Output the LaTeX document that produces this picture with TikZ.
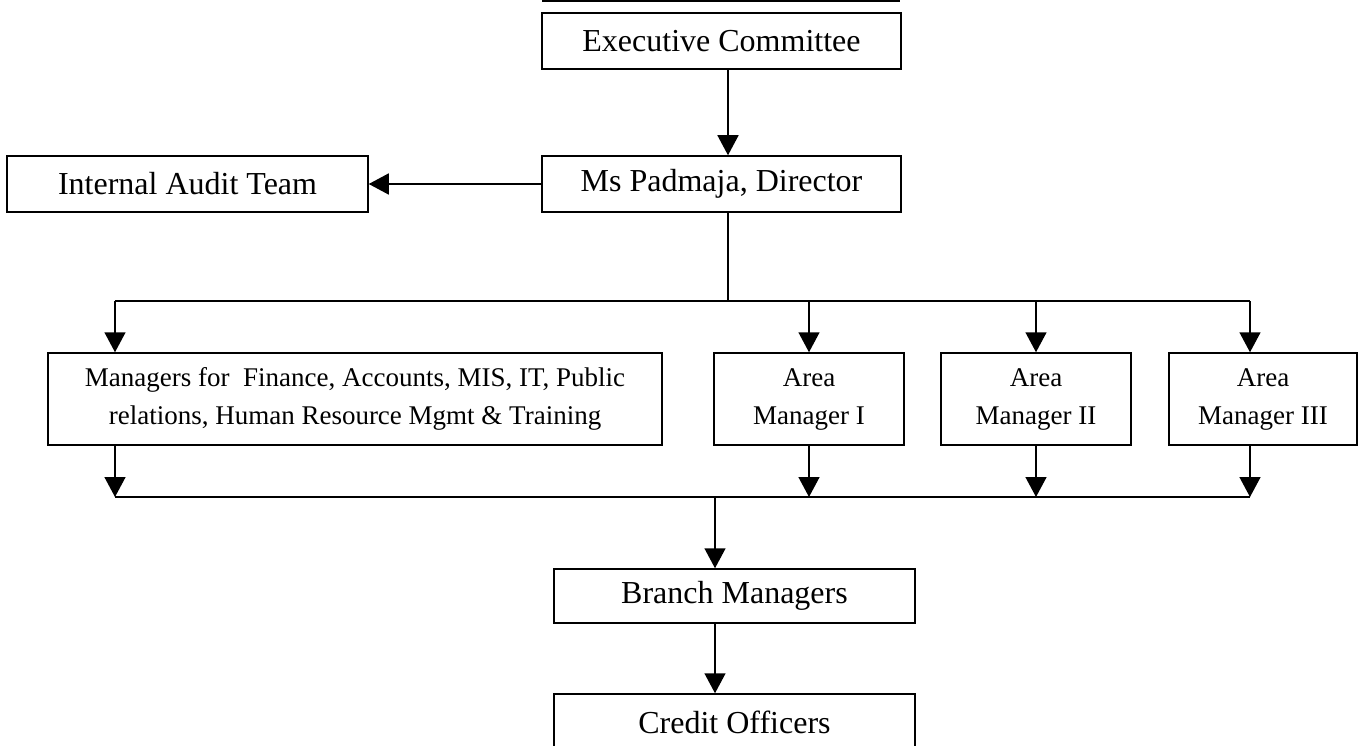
\documentclass[tikz,border=0pt]{standalone}
\usepackage{fontspec}
\setmainfont{Liberation Serif}
\usetikzlibrary{arrows.meta}
\tikzset{
  box/.style={draw, line width=1.5pt, inner sep=0pt, anchor=center, align=center},
  bigtxt/.style={font=\fontsize{32}{36}\selectfont},
  smalltxt/.style={font=\fontsize{27}{38}\selectfont},
  conn/.style={line width=1.5pt},
  arr/.style={line width=1.5pt, -{Triangle[length=20pt,width=21pt]}},
}
\begin{document}
\begin{tikzpicture}[x=1pt,y=-1pt]
\useasboundingbox (0,0) rectangle (1362,746);
% bottom edge of a box cut off at the top
\draw[conn] (542,1) -- (900,1);
% nodes
\node[box,bigtxt,minimum width=359pt,minimum height=56pt] (exec) at (721.5,41) {Executive Committee};
\node[box,bigtxt,minimum width=359pt,minimum height=56pt] (dir) at (721.5,184) {Ms Padmaja, Director};
\node[box,bigtxt,minimum width=361pt,minimum height=56pt] (aud) at (187.5,184) {Internal Audit Team};
\node[box,smalltxt,minimum width=614pt,minimum height=92pt] (mgr) at (355,399) {Managers for\ \ Finance, Accounts, MIS, IT, Public\\relations, Human Resource Mgmt \& Training};
\node[box,smalltxt,minimum width=190pt,minimum height=92pt] (am1) at (809,399) {Area\\Manager I};
\node[box,smalltxt,minimum width=190pt,minimum height=92pt] (am2) at (1036,399) {Area\\Manager II};
\node[box,smalltxt,minimum width=188pt,minimum height=92pt] (am3) at (1263,399) {Area\\Manager III};
\node[box,bigtxt,minimum width=361pt,minimum height=54pt] (br) at (734.5,596) {Branch Managers};
\node[box,bigtxt,minimum width=361pt,minimum height=56pt] (cr) at (734.5,722) {Credit Officers};
% junction coordinates
\coordinate (jtop) at (728,301);
\coordinate (busL) at (115,301);
\coordinate (busR) at (1250,301);
\coordinate (bL) at (115,497);
\coordinate (bR) at (1250,497);
\coordinate (jbot) at (715,497);
% connectors
\draw[arr] (exec.south -| jtop) -- (dir.north -| jtop);
\draw[arr] (dir.west) -- (aud.east);
\draw[conn] (dir.south -| jtop) -- (jtop);
\draw[conn] (busL) -- (busR);
\draw[arr] (busL) -- (busL |- mgr.north);
\draw[arr] (am1.north |- busL) -- (am1.north);
\draw[arr] (am2.north |- busL) -- (am2.north);
\draw[arr] (busR) -- (busR |- am3.north);
\draw[arr] (busL |- mgr.south) -- (bL);
\draw[arr] (am1.south) -- (am1.south |- bL);
\draw[arr] (am2.south) -- (am2.south |- bL);
\draw[arr] (busR |- am3.south) -- (bR);
\draw[conn] (bL) -- (bR);
\draw[arr] (jbot) -- (jbot |- br.north);
\draw[arr] (br.south -| jbot) -- (jbot |- cr.north);
\end{tikzpicture}
\end{document}
